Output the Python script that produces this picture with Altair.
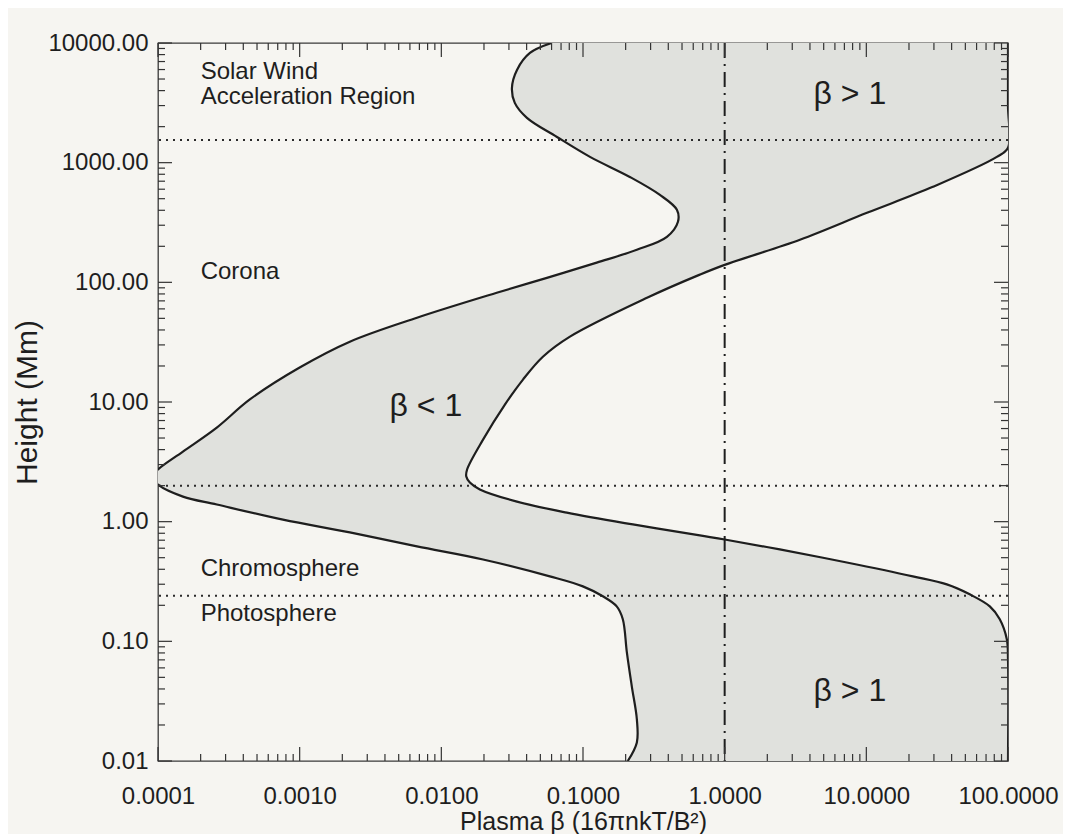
import altair as alt
import pandas as pd

# ---------------- data ----------------
# left boundary of the shaded band (plasma beta, height in Mm)
left_beta = [0.060, 0.0422, 0.0342, 0.0315, 0.0330, 0.0402, 0.0655, 0.112, 0.214, 0.349,
             0.460, 0.468, 0.391, 0.240, 0.125, 0.0556, 0.0246, 0.00673, 0.00226, 0.00100,
             0.000445, 0.000260, 0.000150, 0.000100, 0.0000907, 0.000100, 0.000150, 0.000260,
             0.000762, 0.00226, 0.00673, 0.0197, 0.0583, 0.0998, 0.138, 0.173, 0.191,
             0.204, 0.221, 0.240, 0.240, 0.207]
left_h = [10000, 8260, 5960, 4210, 3160, 2370, 1640, 1118, 760, 538,
          404, 321, 240, 187, 146, 109, 81.8, 50.6, 31.9, 19.4,
          10.5, 6.11, 3.85, 2.73, 2.38, 2.04, 1.62, 1.39,
          1.04, 0.813, 0.621, 0.483, 0.349, 0.288, 0.238, 0.196, 0.153,
          0.081, 0.0421, 0.0223, 0.0143, 0.01]

# right boundary of the shaded band
right_beta = [100, 100, 100, 83.4, 29.5, 10.1, 3.40, 1.0, 0.668, 0.283,
              0.0809, 0.0521, 0.0377, 0.0281, 0.0197, 0.0152, 0.0150, 0.0159, 0.0187, 0.0342,
              0.0769, 0.225, 0.668, 1.0, 2.45, 7.28, 21.3, 37.0, 53.7, 74.4,
              87.5, 98.1, 100, 100]
right_h = [10000, 3000, 1330, 1117, 628, 381, 227, 140, 116, 74.3,
           35.2, 23.9, 15.4, 9.51, 4.85, 2.73, 2.38, 2.12, 1.86, 1.47,
           1.19, 0.948, 0.767, 0.71, 0.586, 0.456, 0.349, 0.299, 0.247, 0.196,
           0.153, 0.104, 0.0708, 0.01]

# layer boundaries (dotted) and beta = 1 (dash-dot)
boundary_h = [1550, 2.0, 0.24]
beta_one = [1.0]

# annotations
region_text = [["Solar Wind", "Acceleration Region"], ["Corona"], ["Chromosphere"], ["Photosphere"]]
region_beta = [0.0002, 0.0002, 0.0002, 0.0002]
region_h = [5960, 127, 0.415, 0.175]

beta_text = ["\u03b2 < 1", "\u03b2 > 1", "\u03b2 > 1"]
beta_x = [0.00778, 7.65, 7.65]
beta_y = [9.33, 3750, 0.0383]

# axis ticks
x_major = [0.0001, 0.001, 0.01, 0.1, 1, 10, 100]
y_major = [0.01, 0.1, 1, 10, 100, 1000, 10000]
x_minor = [k * 10.0 ** e for e in range(-4, 2) for k in range(2, 10)]
y_minor = [k * 10.0 ** e for e in range(-2, 4) for k in range(2, 10)]

# ---------------- styling ----------------
W, H = 850, 718
BG = "#f6f5f1"
FILL = "#e0e1dd"
INK = "#1e1e1e"
FONT = "Liberation Sans"
MAJ, MIN = 14, 7
X_EDGE = 100  # right edge of the beta axis

xs = alt.Scale(type="log", domain=[1e-4, 100], nice=False)
ys = alt.Scale(type="log", domain=[0.01, 10000], nice=False)

left_df = pd.DataFrame({"beta": left_beta, "h": left_h})
left_df["edge"] = X_EDGE
right_df = pd.DataFrame({"beta": right_beta, "h": right_h})
right_df["edge"] = X_EDGE

X_TITLE = "Plasma \u03b2 (16\u03c0nkT/B\u00b2)"
Y_TITLE = "Height (Mm)"
x_axis = alt.Axis(values=x_major, format=".4f", labelFlush=False, labelOverlap=False)
y_axis = alt.Axis(values=y_major, format=".2f", labelFlush=False, labelOverlap=False)


def X(field):
    return alt.X(field, scale=xs, axis=x_axis, title=X_TITLE)


def Y(field):
    return alt.Y(field, scale=ys, axis=y_axis, title=Y_TITLE)


gray = alt.Chart(left_df).mark_area(orient="horizontal", interpolate="catmull-rom",
                                    clip=True, color=FILL).encode(
    y=Y("h:Q"), x=X("beta:Q"), x2="edge:Q")

blank = alt.Chart(right_df).mark_area(orient="horizontal", interpolate="catmull-rom",
                                      clip=True, color=BG).encode(
    y=Y("h:Q"), x=X("beta:Q"), x2="edge:Q")

dotted = alt.Chart(pd.DataFrame({"h": boundary_h})).mark_rule(
    color="#2a2a2a", strokeWidth=2, strokeDash=[2, 5]).encode(y=Y("h:Q"))

dashdot = alt.Chart(pd.DataFrame({"beta": beta_one})).mark_rule(
    color=INK, strokeWidth=2, strokeDash=[15, 6, 2, 6]).encode(x=X("beta:Q"))

left_line = alt.Chart(left_df).mark_line(interpolate="catmull-rom", clip=True,
                                         color=INK, strokeWidth=2.2).encode(
    y=Y("h:Q"), x=X("beta:Q"), order=alt.Order("h:Q"))
right_line = alt.Chart(right_df).mark_line(interpolate="catmull-rom", clip=True,
                                           color=INK, strokeWidth=2.2).encode(
    y=Y("h:Q"), x=X("beta:Q"), order=alt.Order("h:Q"))


def xticks(vals, length):
    d = pd.DataFrame({"beta": vals})
    base = alt.Chart(d).mark_rule(color="#333333", strokeWidth=1.2)
    bottom = base.encode(x=X("beta:Q"), y=alt.value(H), y2=alt.value(H - length))
    top = base.encode(x=X("beta:Q"), y=alt.value(0), y2=alt.value(length))
    return [bottom, top]


def yticks(vals, length):
    d = pd.DataFrame({"h": vals})
    base = alt.Chart(d).mark_rule(color="#333333", strokeWidth=1.2)
    left = base.encode(y=Y("h:Q"), x=alt.value(0), x2=alt.value(length))
    right = base.encode(y=Y("h:Q"), x=alt.value(W), x2=alt.value(W - length))
    return [left, right]


ticks = xticks(x_major, MAJ) + xticks(x_minor, MIN) + yticks(y_major, MAJ) + yticks(y_minor, MIN)

regions = alt.Chart(pd.DataFrame({"t": region_text, "beta": region_beta, "h": region_h})).mark_text(
    align="left", baseline="top", font=FONT, fontSize=24, lineHeight=25, color=INK, dy=-10).encode(
    x=X("beta:Q"), y=Y("h:Q"), text="t")

betas = alt.Chart(pd.DataFrame({"t": beta_text, "beta": beta_x, "h": beta_y})).mark_text(
    align="center", baseline="middle", font=FONT, fontSize=32, color=INK).encode(
    x=X("beta:Q"), y=Y("h:Q"), text="t:N")

chart = alt.layer(gray, blank, dotted, dashdot, left_line, right_line, *ticks, regions, betas).properties(
    width=W, height=H,
    autosize=alt.AutoSizeParams(type="none"),
    padding={"left": 150, "top": 35, "right": 55, "bottom": 80},
    background=BG,
).configure_view(
    stroke="#3a3a3a", strokeWidth=1.3
).configure_axis(
    ticks=False, domain=False, grid=False,
    labelFont=FONT, labelFontSize=24, labelColor=INK,
    titleFont=FONT, titleFontWeight="normal", titleColor=INK,
).configure_axisX(
    labelPadding=23, titleFontSize=25, titlePadding=1
).configure_axisY(
    labelPadding=10, titleFontSize=30, titlePadding=5
)

chart.save("out.html", embed_options={"renderer": "svg", "actions": False})
